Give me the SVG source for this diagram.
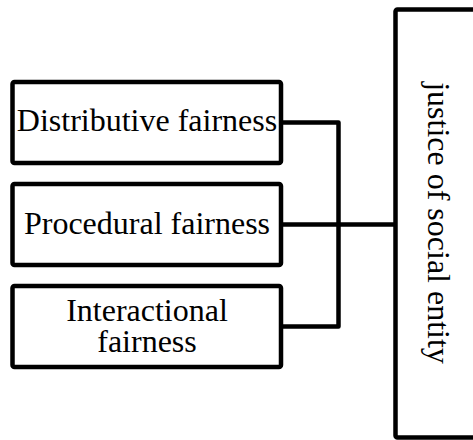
<svg xmlns="http://www.w3.org/2000/svg" width="473" height="440" viewBox="0 0 473 440">
<style>
.box{fill:#fff;stroke:#000;stroke-width:4.5;stroke-linejoin:round}
.t{font-family:"Liberation Serif","Times New Roman",serif;font-size:32px;fill:#000;text-anchor:middle}
.c{fill:none;stroke:#000;stroke-width:4.5;stroke-linejoin:round}
</style>
<rect width="473" height="440" fill="#fff"/>
<g id="connectors">
<path class="c" d="M281,122.5 H338.5 V326.5 H281"/>
<path class="c" d="M281,224.5 H395.5"/>
</g>
<g id="distributive">
<rect class="box" x="12.5" y="82" width="268.5" height="81" rx="2"/>
<text class="t" x="147" y="131">Distributive fairness</text>
</g>
<g id="procedural">
<rect class="box" x="12.5" y="184" width="268.5" height="81" rx="2"/>
<text class="t" x="147" y="234">Procedural fairness</text>
</g>
<g id="interactional">
<rect class="box" x="12.5" y="286" width="268.5" height="81" rx="2"/>
<text class="t" x="147" y="321">Interactional</text>
<text class="t" x="147" y="352">fairness</text>
</g>
<g id="justice">
<rect class="box" x="395.5" y="9.5" width="110" height="428" rx="2"/>
<text class="t" transform="translate(428,223) rotate(90)">justice of social entity</text>
</g>
</svg>
